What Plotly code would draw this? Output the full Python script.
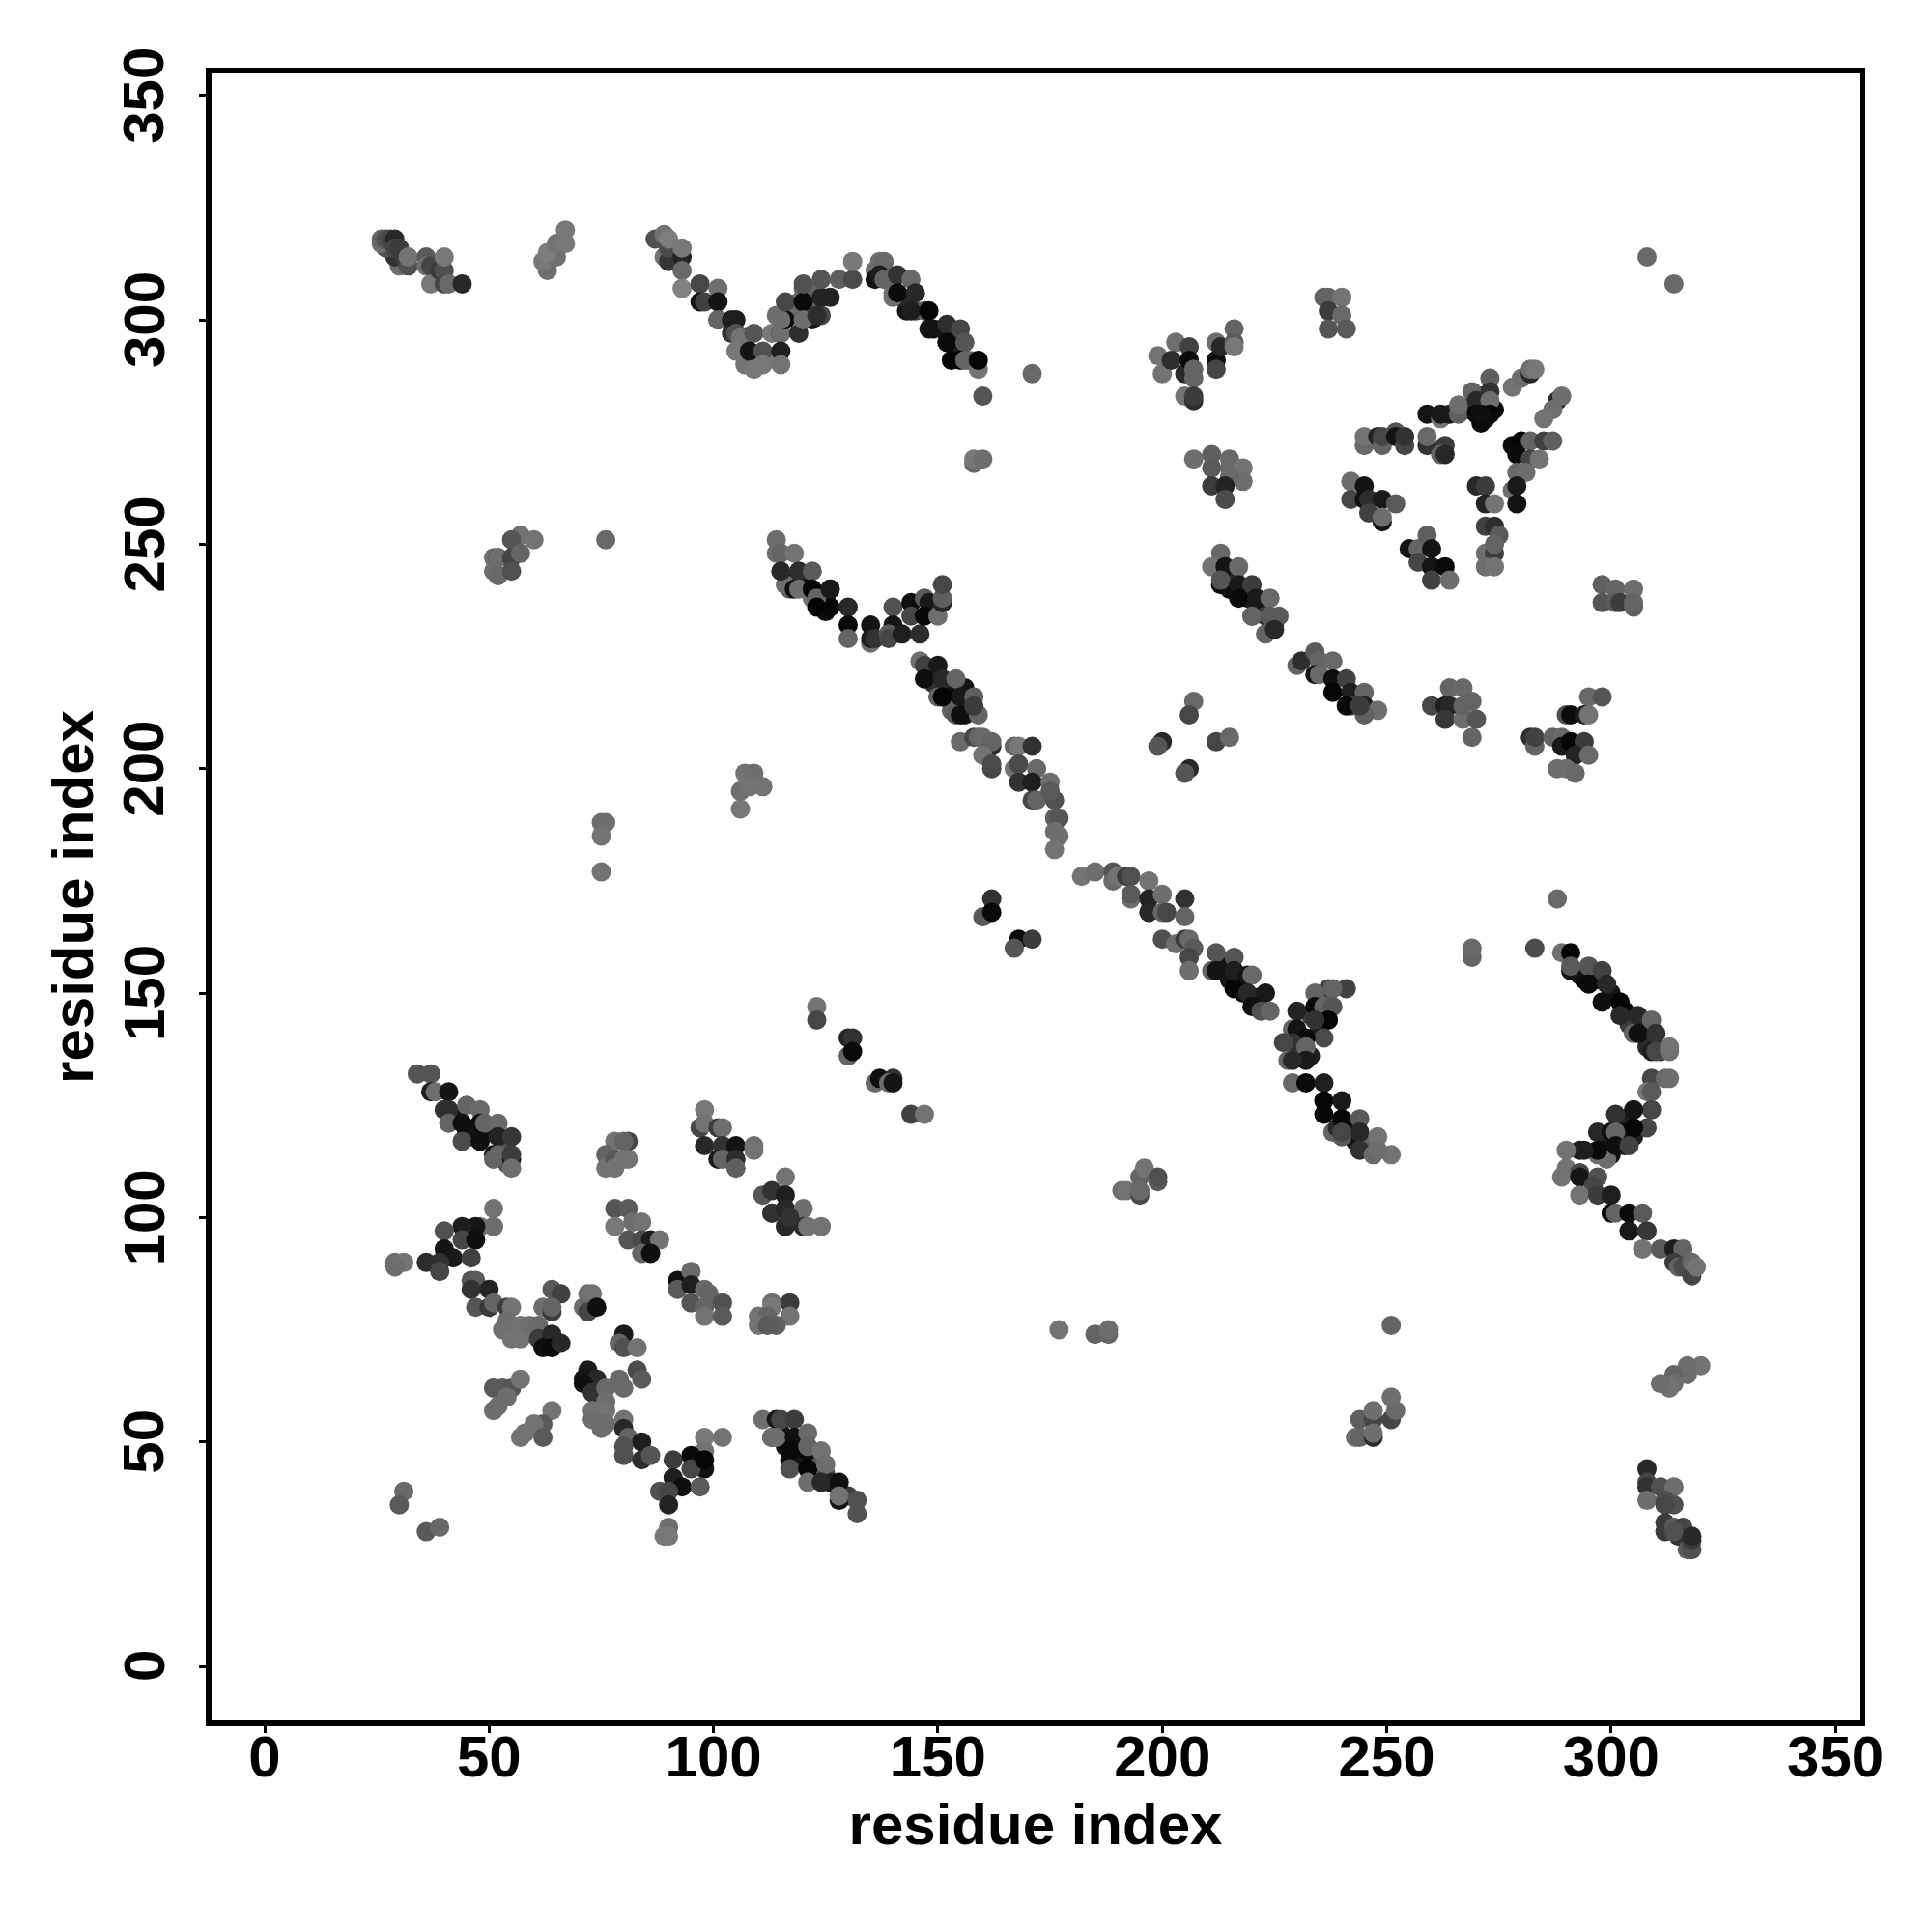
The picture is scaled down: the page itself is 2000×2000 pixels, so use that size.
import plotly.graph_objects as go

x_under = [118,122,120,122,114,120,121,119,122,124,126,104,107,110,112,107,106,107,143,142,145,147,149,151,153,154,153,157,139,136,136,140,119,117,121,125,125,122,116,150,149,152,153,156,153,156,307,309,311,308,304,303,300,297,293,294,115,116,117,119,120,122,123,125,126,130,299,300,303,305,303,300,299,302,43,45,47,50,53,46,53,54,231,233,231,235,233,241,242,243,245,238,239,246,215,216,218,219,222,223,225,268,269,271,272,274,271,215,217,218,221,213]
y_under = [303,304,302,300,301,307,307,304,302,301,305,297,293,291,291,290,294,296,302,305,302,302,298,298,295,293,291,291,310,311,309,306,243,240,240,238,235,238,241,221,219,218,216,218,213,212,143,139,137,138,143,146,150,153,154,153,52,49,46,47,46,44,47,43,41,38,117,114,116,118,122,119,113,119,122,119,118,120,117,118,115,112,138,136,136,142,145,121,119,117,117,119,120,116,240,243,240,238,236,234,232,280,281,283,281,280,277,153,152,150,149,156]
s_under = [110,100,110,20,110,100,100,100,100,70,35,50,110,110,120,115,60,50,20,40,60,90,15,20,30,30,5,110,80,110,20,110,30,100,10,10,15,110,110,70,50,30,15,20,100,20,30,90,60,40,60,10,20,15,10,15,20,15,15,30,20,40,90,80,30,60,20,15,25,30,30,100,110,15,15,15,15,20,40,20,80,80,40,30,60,30,70,20,15,20,30,100,40,100,15,40,30,30,20,60,70,15,20,40,10,10,10,20,15,15,15,20]

x_a = [30,29,27,26,26,27,28,29,29,30,31,32,32,36,36,37,37,39,40,40,40,41,44]
y_a = [312,314,316,317,318,318,318,318,316,316,314,312,314,314,312,312,308,311,311,314,308,308,308]
s_a = [110,50,80,110,100,80,70,40,70,60,60,80,115,90,110,70,120,60,80,120,70,105,40]

x_b = [63,62,65,63,65,67,67]
y_b = [311,313,314,315,317,317,320]
s_b = [110,120,110,125,115,120,120]

x_c = [89,90,87,89,90,90,93,93,93,93]
y_c = [314,313,318,319,316,318,314,316,311,307]
s_c = [115,55,80,115,75,125,35,120,105,130]

x_d = [97,97,98,101,101,101,101,104,105,105,106,105,109,108,111,109,111,113,115,115,115,115,116,115,116,119,120,120,120,120,123,124,124]
y_d = [308,304,304,307,304,300,300,300,300,297,296,293,297,293,293,289,290,297,297,297,293,290,300,300,304,297,304,308,300,300,301,305,309]
s_d = [70,20,65,110,20,25,100,30,30,80,115,120,85,20,80,120,120,120,10,110,30,115,10,110,70,45,10,80,15,110,45,35,85]

x_e = [128,131,131,137,138,137,138,141,144,140,141,145,144,148,148,152,152,155,156,155,156,159,159,160,171,158,158,160]
y_e = [309,309,313,313,313,310,309,310,309,305,306,306,302,302,298,299,295,298,295,291,291,289,291,283,288,268,269,269]
s_e = [95,75,120,110,105,30,100,50,105,110,10,40,30,5,20,45,10,70,85,5,100,115,5,85,105,105,120,110]

x_f = [199,200,203,202,205,206,206,207,207,205,207,207,212,212,212,213,216,216,216]
y_f = [292,288,295,291,288,294,291,289,287,283,282,283,295,291,289,294,298,295,294]
s_f = [115,115,110,45,40,65,10,100,100,115,45,60,110,15,70,40,100,90,120]

x_g = [207,211,211,215,215,218,218,215,211,214,214]
y_g = [269,270,267,269,267,267,264,265,263,263,260]
s_g = [110,95,90,105,105,115,110,105,60,35,75]

x_h = [213,211,213,214,217,213,217,220,217,221,224,220,220,224,226,223,225]
y_h = [248,245,241,245,245,242,241,241,238,238,238,234,234,234,234,230,231]
s_h = [105,115,15,20,105,85,25,60,10,25,105,20,100,90,90,100,40]

x_i = [126,126,130,130,130,135,135,135,136,140,140,139,139,142,144,144,147,148,146,147,150,151,151,151]
y_i = [240,236,236,232,229,232,228,229,229,236,232,230,229,230,237,234,238,237,230,234,234,237,238,241]
s_i = [25,5,40,10,100,20,110,30,50,80,20,90,70,30,15,70,90,25,45,5,110,40,95,70]

x_j = [308,314,236,237,240,237,240,237,241]
y_j = [314,308,305,305,305,302,301,298,298]
s_j = [105,105,95,100,115,60,105,85,90]

x_k = [278,280,282,282,283,288,289,287,285]
y_k = [285,287,288,289,289,282,283,280,278]
s_k = [115,110,40,110,120,40,110,110,115]

x_l = [259,262,262,264,266,266,269,270,273,273,273,273,272,270,271]
y_l = [279,278,279,279,279,281,284,282,287,284,282,279,278,279,279]
s_l = [20,120,25,25,95,110,100,40,95,50,110,5,10,10,15]

x_m = [245,245,248,249,249,252,252,254,254,259,259,263,262,263]
y_m = [272,274,274,272,274,275,274,272,274,272,274,272,270,270]
s_m = [105,115,35,100,70,85,20,70,50,50,105,60,100,40]

x_n = [278,280,279,282,285,287,282,284,279,281,278,279,279]
y_n = [272,273,270,273,273,273,269,269,266,266,262,263,259]
s_n = [10,5,10,100,65,95,70,115,105,110,110,25,20]

x_o = [270,272,272,274,272,274,275,272,274,274,272,274]
y_o = [263,263,259,259,254,254,252,248,248,250,245,245]
s_o = [40,60,35,115,65,45,90,110,60,100,110,115]

x_p = [242,245,242,245,246,249,252,246,249,249]
y_p = [264,263,260,260,260,260,259,257,255,256]
s_p = [110,20,70,15,45,25,90,65,20,110]

x_q = [255,257,259,260,257,260,263,260,264]
y_q = [249,249,252,249,246,245,245,242,242]
s_q = [20,100,95,20,70,20,10,65,110]

x_r = [298,301,305,298,301,302,305,305]
y_r = [241,240,240,237,237,237,236,237]
s_r = [95,100,110,85,90,60,95,100]

x_s = [264,267,260,263,264,263,267,267,269,270,269]
y_s = [218,218,214,214,214,211,211,214,215,211,207]
s_s = [100,105,70,30,40,55,110,100,100,85,100]

x_t = [295,298,290,291,294,295,282,283,283,287,289,289,291,294,292,295,288,290,292]
y_t = [216,216,212,212,212,212,207,205,207,207,207,205,206,206,203,203,200,200,199]
s_t = [105,85,80,10,30,115,45,100,65,100,105,25,5,60,35,105,110,110,105]

x_u = [288,283,269,269]
y_u = [171,160,158,160]
s_u = [105,75,100,105]

x_v = [289,291,291,291,295,298,295,299,298,302,302,306,309,305,306,310,309,310,313,313,309,312,313,308,309]
y_v = [159,159,155,156,156,155,152,152,148,148,145,145,144,141,141,141,137,137,137,138,131,131,131,128,128]
s_v = [110,5,20,90,85,65,10,40,15,5,40,40,100,100,15,50,30,70,110,115,70,105,110,120,90]

x_w = [309,305,301,308,305,297,300,301,301,304,297,297,294,293,290,290,289,293,293,297,296,293,297,300,300,301,304,307,304,308,307,311,314,316,314,315,316,318,318,319]
y_w = [124,124,123,120,120,119,119,119,116,116,114,115,115,115,115,111,109,110,109,109,107,105,105,105,101,101,101,101,97,97,93,93,93,93,90,89,89,87,90,89]
s_w = [70,20,50,70,5,40,15,100,15,65,110,10,30,30,115,115,115,70,20,80,70,115,60,30,5,100,10,90,25,55,115,90,30,100,60,100,75,70,105,115]

x_aa = [229,232,236,236,240,236,240,244,240,244,244,247,248,251,248,240]
y_aa = [130,130,130,126,126,123,122,122,118,119,115,114,118,114,115,119]
s_aa = [105,10,30,5,25,5,5,90,90,40,50,105,115,115,110,70]

x_ab = [241,237,238,234,230,234,236,238,237,234,236,229,230,232,229,227,232,232,228,229]
y_ab = [151,151,151,150,146,147,147,147,144,144,140,142,142,140,139,139,138,135,135,135]
s_ab = [65,70,100,100,35,10,100,85,5,50,75,100,20,10,50,70,100,25,100,40]

x_ac = [146,147,150,147,151,154,150,151,155,158,154,155,159,158]
y_ac = [224,223,223,220,220,220,216,216,216,216,212,212,212,214]
s_ac = [110,65,25,15,40,100,100,5,25,95,90,15,100,60]

x_ad = [155,158,159,160,162,162,160,162,162,167,168,171]
y_ad = [206,207,207,207,205,206,203,200,201,205,205,205]
s_ad = [105,70,100,105,40,100,115,70,75,100,120,50]

x_ae = [167,168,172,168,171,175,171,172,176,175,176,177,176,177,176]
y_ae = [200,201,200,197,197,197,193,193,193,195,189,189,186,185,182]
s_ae = [115,75,105,50,30,110,70,100,80,90,95,85,110,110,115]

x_af = [182,185,189,189,190,192,193,197,193,193,197,200,205,197,200,201,205]
y_af = [176,177,177,175,176,176,176,175,171,172,171,172,171,168,168,168,167]
s_af = [115,110,85,105,115,60,80,115,110,90,35,110,50,40,100,70,100]

x_ag = [200,203,205,206,207,206,206,212,211,212,216,216,216,219,220,219,223,220,222,224]
y_ag = [162,161,162,162,160,158,155,159,155,155,158,155,151,154,154,150,150,147,146,146]
s_ag = [80,110,60,105,90,70,110,85,100,20,85,30,5,20,105,40,25,15,80,100]

x_ah = [162,160,162,168,167,171,207,206,200,199,212,215,206,205]
y_ah = [171,167,168,162,160,162,215,212,206,205,206,207,200,199]
s_ah = [50,90,10,10,85,60,105,70,40,85,70,105,40,85]

x_ai = [130,131,130,131,136,137,140,139,140,144,147]
y_ai = [140,140,136,137,130,131,131,130,130,123,123]
s_ai = [35,50,100,10,105,15,50,110,20,65,115]

x_aj = [191,192,195,195,196,195,199,199,177,185,188,188,251]
y_aj = [106,106,105,109,111,106,108,109,75,74,74,75,76]
s_aj = [110,115,75,100,115,105,90,80,115,100,100,110,100]

x_ak = [251,244,247,247,243,244,247,247,252,251]
y_ak = [55,55,55,57,51,51,51,52,57,60]
s_ak = [70,95,70,110,110,100,45,110,105,110]

x_al = [320,317,317,314,314,313,311]
y_al = [67,67,65,65,63,62,63]
s_al = [115,110,110,100,110,115,110]

x_am = [308,308,308,308,311,314,312,314,312,312,312,314,316,315,317,318,318,318,314]
y_am = [44,41,40,37,40,40,37,36,36,32,30,31,31,29,26,26,28,29,30]
s_am = [40,70,50,110,80,110,80,80,70,60,60,90,70,50,90,80,60,40,80]

x_an = [34,37,37,38,41,40,41,45,48,41,44,44,48,49,52,48,52,55,51,51,52,55,55,55]
y_an = [132,132,128,128,128,124,124,125,124,121,121,117,121,121,121,117,118,118,114,113,114,113,114,111]
s_an = [85,85,30,110,20,50,45,100,105,100,15,75,15,100,105,15,35,55,15,100,100,25,60,110]

x_ao = [51,51,48,47,44,40,44,47,40,42,46,39,36,39,29,31,29]
y_ao = [102,98,98,98,98,97,95,95,93,91,91,90,90,88,90,90,89]
s_ao = [115,110,110,20,30,80,70,15,20,25,65,50,45,70,110,115,110]

x_ap = [46,47,46,50,47,50,51,54,55,53,54,55,57,57,59,61,61,64,62,64,66]
y_ap = [86,86,84,84,80,80,81,80,80,75,77,73,76,73,76,76,73,74,71,71,72]
s_ap = [85,90,50,35,85,55,100,60,115,110,110,115,115,115,110,105,60,40,15,10,40]

x_aq = [64,66,62,64,64,72,73,71,72,74,80,79,80,83]
y_aq = [84,83,80,79,80,83,83,80,79,80,74,72,71,71]
s_aq = [90,65,110,60,100,110,115,110,70,15,25,100,80,115]

x_ar = [72,71,74,71,73,76,83,84,79,80,76,73,76,73,76,75,80,80,81,84,80,80,84,86]
y_ar = [66,64,64,63,61,62,66,64,64,62,59,57,57,55,54,53,55,53,51,50,49,47,46,47]
s_ar = [25,20,40,15,50,105,75,90,105,105,110,115,115,110,110,110,115,40,100,30,80,80,45,85]

x_as = [51,53,55,57,54,51,52,64,62,60,57,58,62]
y_as = [62,62,62,64,60,57,58,57,54,54,51,52,51]
s_as = [90,90,85,115,110,110,110,115,90,115,115,115,90]

x_at = [98,102,98,95,98,95,98,91,91,93,97,88,90,90,90,89,90,31,30,36,39]
y_at = [51,51,48,47,44,44,46,46,42,40,40,39,39,36,31,29,29,39,36,30,31]
s_at = [120,115,115,10,20,70,5,60,30,15,90,80,70,35,110,120,120,105,90,90,105]

x_au = [78,81,80,76,76,78,78,80,81]
y_au = [117,117,117,114,111,113,111,113,113]
s_au = [115,70,100,100,115,90,115,115,115]

x_av = [78,81,78,82,84,81,84,86,88,84,86]
y_av = [102,102,98,99,99,95,95,95,95,92,92]
s_av = [85,90,120,110,115,85,75,30,115,100,15]

x_aw = [92,95,92,95,98,95,99,98,102,98,102]
y_aw = [86,88,84,85,84,81,83,80,81,78,78]
s_aw = [15,105,90,30,105,85,100,100,80,115,90]

x_ax = [113,117,117,113,110,112,110,114,112]
y_ax = [81,81,78,80,78,78,76,76,76]
s_ax = [110,60,115,120,115,100,115,95,90]

x_ay = [98,97,98,98,101,102,102,105,101,102,105,109,109,105]
y_ay = [124,120,121,116,120,120,116,116,113,113,113,116,115,111]
s_ay = [120,70,115,40,60,110,50,20,25,100,45,110,115,95]

x_az = [116,111,113,116,113,113,116,120,116,120,121,124,117]
y_az = [109,105,106,105,101,101,102,102,98,98,98,98,100]
s_az = [115,85,50,30,85,50,40,110,40,40,115,115,50]

x_ba = [111,114,115,118,113,113,114,118,121,117,121,121,124,117,121,125,121,124,128,128,128,132,132]
y_ba = [55,55,55,55,51,51,51,51,52,48,48,49,48,44,44,45,41,41,41,37,38,37,34]
s_ba = [110,25,70,60,15,110,110,15,105,10,10,100,115,80,5,110,110,40,15,20,115,80,80]

x_bb = [114,114,115,118,115,119,122,118,119,122,123,123,126]
y_bb = [251,248,248,248,244,244,244,240,240,240,238,236,240]
s_bb = [110,110,100,115,40,45,90,15,110,5,100,5,25]

x_bc = [57,55,60,51,52,52,55,57,51,52,55,76]
y_bc = [252,251,251,247,247,247,247,248,244,243,244,251]
s_bc = [115,85,115,110,20,110,70,100,110,105,80,105]

x_bd = [76,75,75,75,107,109,106,108,111,106,123,123]
y_bd = [188,188,185,177,199,199,195,196,196,191,147,144]
s_bd = [110,110,115,115,115,110,110,115,115,120,115,70]

x_be = [230,231,234,235,238,234,235,238,241,238,242,245,242,241,245,248,245,244]
y_be = [223,224,226,224,224,221,221,220,220,217,217,217,214,214,214,213,212,214]
s_be = [100,45,90,100,105,20,105,15,65,5,30,100,70,10,30,110,95,60]

regions = [
    (x_under, y_under, s_under),
    (x_a, y_a, s_a), (x_b, y_b, s_b), (x_c, y_c, s_c), (x_d, y_d, s_d), (x_e, y_e, s_e),
    (x_f, y_f, s_f), (x_g, y_g, s_g), (x_h, y_h, s_h), (x_i, y_i, s_i), (x_j, y_j, s_j),
    (x_k, y_k, s_k), (x_l, y_l, s_l), (x_m, y_m, s_m), (x_n, y_n, s_n), (x_o, y_o, s_o),
    (x_p, y_p, s_p), (x_q, y_q, s_q), (x_r, y_r, s_r), (x_s, y_s, s_s), (x_t, y_t, s_t),
    (x_u, y_u, s_u), (x_v, y_v, s_v), (x_w, y_w, s_w), (x_aa, y_aa, s_aa), (x_ab, y_ab, s_ab),
    (x_ac, y_ac, s_ac), (x_ad, y_ad, s_ad), (x_ae, y_ae, s_ae), (x_af, y_af, s_af), (x_ag, y_ag, s_ag),
    (x_ah, y_ah, s_ah), (x_ai, y_ai, s_ai), (x_aj, y_aj, s_aj), (x_ak, y_ak, s_ak), (x_al, y_al, s_al),
    (x_am, y_am, s_am), (x_an, y_an, s_an), (x_ao, y_ao, s_ao), (x_ap, y_ap, s_ap), (x_aq, y_aq, s_aq),
    (x_ar, y_ar, s_ar), (x_as, y_as, s_as), (x_at, y_at, s_at), (x_au, y_au, s_au), (x_av, y_av, s_av),
    (x_aw, y_aw, s_aw), (x_ax, y_ax, s_ax), (x_ay, y_ay, s_ay), (x_az, y_az, s_az), (x_ba, y_ba, s_ba),
    (x_bb, y_bb, s_bb), (x_bc, y_bc, s_bc), (x_bd, y_bd, s_bd), (x_be, y_be, s_be),
]

tick_values = [0, 50, 100, 150, 200, 250, 300, 350]
tick_labels = ["0", "50", "100", "150", "200", "250", "300", "350"]
axis_title = "residue index"

fig = go.Figure()
for i, (xs, ys, ss) in enumerate(regions):
    assert len(xs) == len(ys) == len(ss), (i, len(xs), len(ys), len(ss))
    fig.add_trace(go.Scatter(
        x=xs, y=ys, mode="markers", showlegend=False,
        marker=dict(size=20, color=[f"rgb({v},{v},{v})" for v in ss], line=dict(width=0)),
    ))

FONT = "Liberation Sans"
BOLD = dict(family=FONT, size=60, color="black", weight="bold")
axis_common = dict(
    showgrid=False, zeroline=False, showline=True, mirror=True,
    linecolor="black", linewidth=6, ticks="outside", ticklen=7, tickwidth=3, tickcolor="black",
    tickvals=tick_values, ticktext=tick_labels, tickfont=BOLD,
)
fig.update_layout(
    width=2000, height=2000, paper_bgcolor="white", plot_bgcolor="white",
    margin=dict(l=219, r=75, t=76, b=219, autoexpand=False),
    xaxis=dict(range=[-11.84, 355.35], title=dict(text=axis_title, standoff=18, font=BOLD),
               ticklabelstandoff=-27, **axis_common),
    yaxis=dict(range=[-12.05, 354.9], title=dict(text=axis_title, standoff=92, font=BOLD),
               showticklabels=False, **axis_common),
    annotations=[
        dict(x=0, xref="paper", y=v, yref="y", text=t, textangle=-90, showarrow=False,
             xanchor="center", yanchor="middle", xshift=-70, font=BOLD)
        for v, t in zip(tick_values, tick_labels)
    ],
)
fig.write_html("out.html", config={"displayModeBar": False}, post_script="document.body.style.margin='0';")
